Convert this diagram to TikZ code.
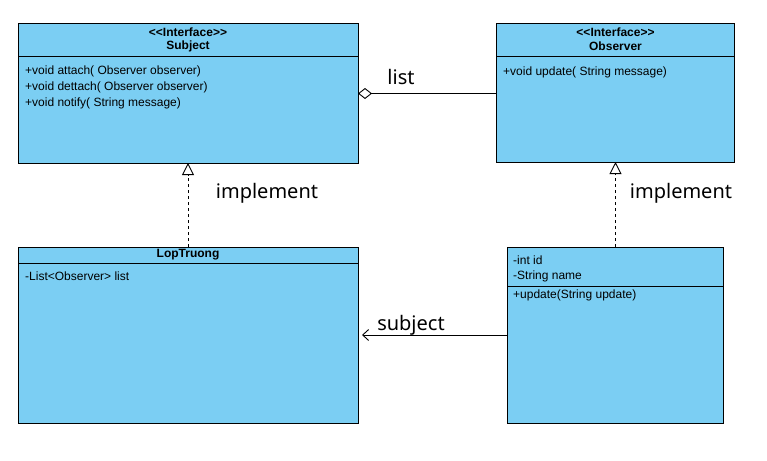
\documentclass[tikz,border=0pt]{standalone}
\usepackage{fontspec}
\setmainfont{Liberation Sans}
\newfontfamily\labelfont{Noto Sans}
\usetikzlibrary{arrows.meta}
\definecolor{clsfill}{HTML}{7BCEF3}
\begin{document}
\begin{tikzpicture}[x=1pt,y=-1pt,
  cls/.style={draw=black, fill=clsfill, line width=1pt, anchor=north west, inner sep=0pt, outer sep=0pt},
  divider/.style={draw=black, line width=0.9pt},
  member/.style={anchor=west, inner sep=0pt, font=\fontsize{12}{14}\selectfont},
  head/.style={inner sep=0pt, font=\fontsize{12}{14}\selectfont\bfseries},
  lbl/.style={inner sep=0pt, font=\labelfont\fontsize{20}{24}\selectfont},
  conn/.style={draw=black, line width=0.9pt}
]
\useasboundingbox[fill=white] (0,0) rectangle (767,460);

% Subject
\node[cls, minimum width=340pt, minimum height=139pt] (subj) at (18,24) {};
\draw[divider] (subj.west |- 0,56) -- (subj.east |- 0,56);
\node[head] (subjst) at (188,32.5) {<{}<Interface>{}>};
\node[head] (subjnm) at (188,46) {Subject};
\node[member] (s1) at (25,71.5) {+void attach( Observer observer)};
\node[member] (s2) at (25,87.5) {+void dettach( Observer observer)};
\node[member] (s3) at (25,103.5) {+void notify( String message)};

% Observer
\node[cls, minimum width=238pt, minimum height=138pt] (obs) at (496.5,24) {};
\draw[divider] (obs.west |- 0,56) -- (obs.east |- 0,56);
\node[head] (obsst) at (615.5,32.5) {<{}<Interface>{}>};
\node[head] (obsnm) at (615.5,46) {Observer};
\node[member] (o1) at (503,72) {+void update( String message)};

% LopTruong
\node[cls, minimum width=340pt, minimum height=176pt] (lop) at (18,247) {};
\draw[divider] (lop.west |- 0,263.5) -- (lop.east |- 0,263.5);
\node[head] (lopnm) at (188,255) {LopTruong};
\node[member] (l1) at (25,276) {-List<Observer> list};

% concrete observer
\node[cls, minimum width=216pt, minimum height=176pt] (sv) at (507,247) {};
\draw[divider] (sv.west |- 0,286) -- (sv.east |- 0,286);
\node[member] (v1) at (513,260.5) {-int id};
\node[member] (v2) at (513,276.5) {-String name};
\node[member] (v3) at (513,295) {+update(String update)};

% connectors
\draw[conn, {Diamond[open, length=14pt, width=11pt, line width=0.9pt]}-] (subj.east) -- (subj.east -| obs.west);
\draw[conn, dashed, dash pattern=on 3pt off 3pt, -{Triangle[open, length=12pt, width=12pt, line width=0.9pt]}] (lop.north) -- (subj.south);
\draw[conn, dashed, dash pattern=on 3pt off 3pt, -{Triangle[open, length=12pt, width=12pt, line width=0.9pt]}] (sv.north -| obs.south) -- (obs.south);
\draw[conn, -{Straight Barb[length=6pt, width=11pt, line width=0.9pt]}, shorten >=4pt] (sv.west) -- (lop.east);

% labels
\node[lbl] (llist) at (401,77) {list};
\node[lbl] (limp1) at (267,193) {implement};
\node[lbl] (limp2) at (681,193) {implement};
\node[lbl] (lsubj) at (411,325) {subject};
\end{tikzpicture}
\end{document}
